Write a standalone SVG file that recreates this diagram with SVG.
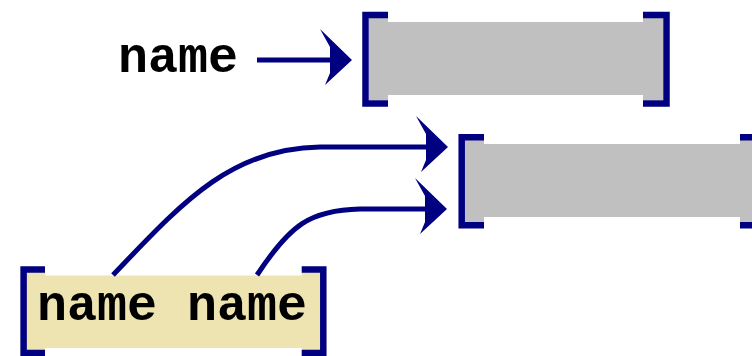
<svg xmlns="http://www.w3.org/2000/svg" width="752" height="356" viewBox="0 0 752 356">
<style>
.br{fill:none;stroke:#000080;stroke-width:6.5;stroke-linejoin:miter;stroke-linecap:butt}
.gray{fill:#c0c0c0}
.beige{fill:#eee4b2}
.lbl{font-family:"Liberation Mono","Courier New",monospace;font-weight:bold;font-size:50px;fill:#000}
.con{fill:none;stroke:#000080;stroke-width:5}
</style>
<defs>
<marker id="ah" markerUnits="userSpaceOnUse" orient="auto" refX="-12" refY="0" markerWidth="40" markerHeight="60" overflow="visible">
<path d="M0,0 L-32,-31 L-22,-13 L-22,13 L-27,25 Z" fill="#000080"/>
</marker>
</defs>
<rect width="752" height="356" fill="#fff"/>
<g id="node-top">
<path class="gray" d="M369,18 H388 V22 H643 V18 H663 V100 H643 V95 H388 V100 H369 Z"/>
<path class="br" d="M388,15 H365.5 V103.5 H388"/>
<path class="br" d="M643,15 H666.5 V103.5 H643"/>
</g>
<g id="node-middle">
<path class="gray" d="M465,140 H484 V144 H740 V140 H760 V222 H740 V217 H484 V222 H465 Z"/>
<path class="br" d="M484,137.2 H461.7 V225.3 H484"/>
<path class="br" d="M740,137.2 H762.7 V225.3 H740"/>
</g>
<g id="node-bottom">
<path class="beige" d="M26.5,272 H45 V275.5 H301.7 V272 H320.5 V350 H301.7 V348 H45 V350 H26.5 Z"/>
<path class="br" d="M45,269.5 H23.6 V353 H45"/>
<path class="br" d="M301.7,269.5 H323.3 V353 H301.7"/>
<text class="lbl" x="37" y="320">name name</text>
</g>
<g id="label-name">
<text class="lbl" x="118" y="72">name</text>
</g>
<g id="connectors">
<path class="con" d="M257,60 H340" marker-end="url(#ah)"/>
<path class="con" d="M113,275 C180,205 230,148 320,147 H436" marker-end="url(#ah)"/>
<path class="con" d="M257,275 C290,225 310,210 360,209 H435" marker-end="url(#ah)"/>
</g>
</svg>
